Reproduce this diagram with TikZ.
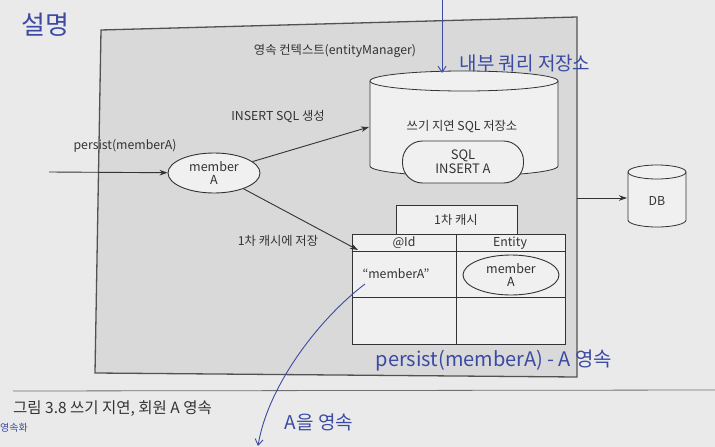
\documentclass[tikz,border=0pt]{standalone}
\usepackage{fontspec}
\setmainfont{Noto Sans CJK KR}
\newfontfamily\handfont{Noto Sans CJK KR}
\usetikzlibrary{arrows.meta,shapes.geometric}
\definecolor{paper}{HTML}{EAEAEA}
\definecolor{boxfill}{HTML}{D9D9D9}
\definecolor{shapefill}{HTML}{F0F0F0}
\definecolor{ink}{HTML}{333333}
\definecolor{pen}{HTML}{3B4AA3}
\tikzset{
  printed/.style={text=ink, font=\fontsize{12.3}{14}\selectfont},
  conn/.style={draw=ink, line width=0.9pt, -{Stealth[length=8pt,width=5.5pt]}},
  cell/.style={draw=ink, line width=0.8pt, fill=shapefill},
  handtext/.style={text=pen, font=\handfont\fontsize{19}{21}\selectfont},
  handline/.style={draw=pen, line width=0.9pt, -{Straight Barb[length=6pt,width=8pt]}},
  entity/.style={ellipse, draw=ink, line width=0.9pt, fill=shapefill, inner sep=0pt, align=center, text=ink, font=\fontsize{12.5}{13.5}\selectfont}
}
\begin{document}
\begin{tikzpicture}[x=1pt,y=-1pt]
\clip (0,0) rectangle (715,447);
\fill[paper] (0,0) rectangle (715,447);
% page rule
\draw[ink!70, line width=0.8pt] (13,391) -- (715,390);
% persistence context box
\draw[draw=ink!85, line width=1.3pt, fill=boxfill] (101,30) -- (577,17) -- (577,377) -- (95,373) -- cycle;
\node[printed] (pctx) at (335,51) {영속 컨텍스트(entityManager)};
% write-behind SQL store cylinder
\path[cell] (370,81) -- (370,166) arc[start angle=180,end angle=0,x radius=94,y radius=10] -- (558,81) arc[start angle=360,end angle=180,x radius=94,y radius=10] -- cycle;
\draw[draw=ink, line width=0.8pt] (370,81) arc[start angle=180,end angle=0,x radius=94,y radius=10];
\node[printed] (storelbl) at (462,127) {쓰기 지연 SQL 저장소};
\node[draw=ink, line width=0.9pt, fill=shapefill, rounded corners=20pt, minimum width=121pt, minimum height=42pt, align=center, text=ink, font=\fontsize{13}{14}\selectfont, inner sep=0pt] (sql) at (463,162) {SQL\\INSERT A};
\coordinate (storeIn) at (369,127);
% DB cylinder
\path[cell] (628,172) -- (628,220) arc[start angle=180,end angle=0,x radius=29,y radius=7] -- (686,172) arc[start angle=360,end angle=180,x radius=29,y radius=7] -- cycle;
\draw[draw=ink, line width=0.8pt] (628,172) arc[start angle=180,end angle=0,x radius=29,y radius=7];
\node[printed] (db) at (657,201) {DB};
\coordinate (dbIn) at (627,198);
\coordinate (ctxOut) at (577,198);
\draw[conn] (ctxOut) -- (dbIn);
% member A entity
\node[entity, minimum width=92pt, minimum height=40pt] (memA) at (214,173) {member\\A};
\coordinate (src) at (49,172);
\draw[conn] (src) -- (memA);
\node[printed] (persistlbl) at (125,146) {persist(memberA)};
\draw[conn] (memA) -- (storeIn);
\node[printed] (insertlbl) at (278,117) {INSERT SQL 생성};
% first-level cache table
\draw[cell] (396,205) rectangle (517,234);
\node[printed] (tab) at (456,220) {1차 캐시};
\draw[cell] (352,234) rectangle (456,251);
\draw[cell] (456,234) rectangle (565,251);
\draw[cell] (352,251) rectangle (456,297);
\draw[cell] (456,251) rectangle (565,297);
\draw[cell] (352,297) rectangle (456,344);
\draw[cell] (456,297) rectangle (565,344);
\node[printed] (idh) at (404,243) {@Id};
\node[printed] (enth) at (510,243) {Entity};
\node[printed] (key) at (396,274) {“memberA”};
\node[entity, minimum width=96pt, minimum height=40pt] (memA2) at (511,275) {member\\A};
\coordinate (cacheIn) at (358,250);
\draw[conn] (memA) -- (cacheIn);
\node[printed] (cachelbl) at (278,241) {1차 캐시에 저장};
% caption
\node[text=ink, font=\fontsize{15.5}{17}\selectfont, anchor=west, inner sep=0pt] (caption) at (13,409) {그림 3.8 쓰기 지연, 회원 A 영속};
% handwritten notes
\node[handtext, font=\handfont\fontsize{26}{28}\selectfont] (note1) at (45,25) {설명};
\coordinate (penTop) at (442,0);
\coordinate (penEnd) at (442,73);
\draw[handline] (penTop) -- (penEnd);
\node[handtext] (note2) at (525,63) {내부 쿼리 저장소};
\node[handtext, font=\handfont\fontsize{20}{22}\selectfont] (note3) at (494,361) {persist(memberA) - A 영속};
\coordinate (keyFoot) at (365,284);
\coordinate (penDown) at (258,446);
\draw[handline] (keyFoot) .. controls (320,318) and (268,385) .. (penDown);
\node[handtext] (note4) at (319,422) {A을 영속};
\node[handtext, anchor=west, inner sep=0pt, font=\handfont\fontsize{10}{10}\selectfont] (note5) at (0,428) {영속화};
\end{tikzpicture}
\end{document}
